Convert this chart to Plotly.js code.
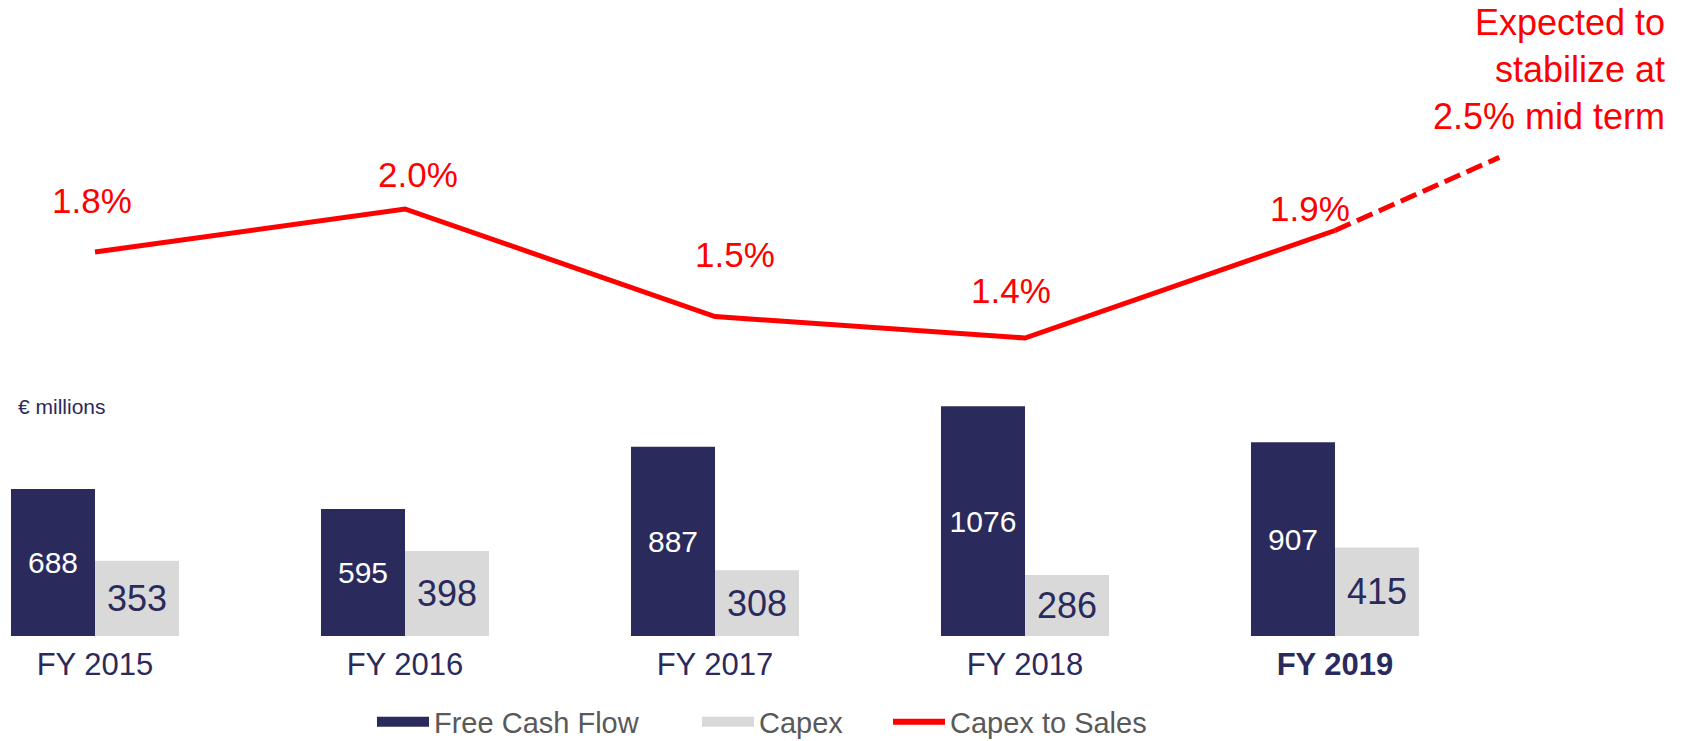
<!DOCTYPE html>
<html>
<head>
<meta charset="utf-8">
<script src="https://cdn.plot.ly/plotly-3.0.1.min.js"></script>
<style>
  html, body { margin: 0; padding: 0; background: #ffffff; }
  #chart { width: 1688px; height: 741px; }
</style>
</head>
<body>
<div id="chart"></div>
<script>
// ---- data ----
const categories = ["FY 2015", "FY 2016", "FY 2017", "FY 2018", "FY 2019"];
const tickLabels = ["FY 2015", "FY 2016", "FY 2017", "FY 2018", "<b>FY 2019</b>"];
const freeCashFlow = [688, 595, 887, 1076, 907];
const capex = [353, 398, 308, 286, 415];
const capexToSales = [1.8, 2.0, 1.5, 1.4, 1.9];
const outlookX = [4, 4.53];
const outlookY = [1.9, 2.24];
const outlookNote = "Expected to<br>stabilize at<br>2.5% mid term";
const unitLabel = "€ millions";
const seriesNames = ["Free Cash Flow", "Capex", "Capex to Sales"];

// ---- styles ----
const NAVY = "#2b2a5c";
const GREY = "#d9d9d9";
const RED = "#ff0000";
const FONT = "Liberation Sans, Arial, sans-serif";
const idx = categories.map((_, i) => i);
// label offsets (px) of the percentage labels relative to their points
const pctDx = [-3, 13, 20, -14, -25];
const pctDy = [51, 34, 62, 48, 22];

const traces = [
  {
    type: "bar", name: seriesNames[0], x: idx, y: freeCashFlow,
    marker: { color: NAVY, line: { width: 0 } },
    text: freeCashFlow.map(String), textposition: "inside",
    insidetextanchor: "middle", textangle: 0, constraintext: "none",
    insidetextfont: { family: FONT, size: 30, color: "#ffffff" },
    showlegend: false, hoverinfo: "skip"
  },
  {
    type: "bar", name: seriesNames[1], x: idx, y: capex,
    marker: { color: GREY, line: { width: 0 } },
    text: capex.map(String), textposition: "inside",
    insidetextanchor: "middle", textangle: 0, constraintext: "none",
    insidetextfont: { family: FONT, size: 36, color: NAVY },
    showlegend: false, hoverinfo: "skip"
  },
  {
    type: "scatter", mode: "lines", name: seriesNames[2], x: idx, y: capexToSales,
    yaxis: "y2", line: { color: RED, width: 5 }, showlegend: false, hoverinfo: "skip"
  },
  {
    type: "scatter", mode: "lines", name: "Outlook", x: outlookX, y: outlookY,
    yaxis: "y2", line: { color: RED, width: 5, dash: "17px,7px" }, showlegend: false, hoverinfo: "skip"
  },
  // legend entries
  { type: "scatter", mode: "lines", name: seriesNames[0], x: [null], y: [null], legend: "legend",
    line: { color: NAVY, width: 14 }, showlegend: true, hoverinfo: "skip" },
  { type: "scatter", mode: "lines", name: seriesNames[1], x: [null], y: [null], legend: "legend2",
    line: { color: GREY, width: 14 }, showlegend: true, hoverinfo: "skip" },
  { type: "scatter", mode: "lines", name: seriesNames[2], x: [null], y: [null], legend: "legend3",
    line: { color: RED, width: 6 }, showlegend: true, hoverinfo: "skip" }
];

const annotations = capexToSales.map((v, i) => ({
  x: i, y: v, xref: "x", yref: "y2", showarrow: false,
  text: v.toFixed(1) + "%", xanchor: "center", yanchor: "middle",
  xshift: pctDx[i], yshift: pctDy[i],
  font: { family: FONT, size: 35, color: RED }
}));
annotations.push({
  x: 1667 / 1688, y: 0.89, xref: "paper", yref: "paper", showarrow: false,
  text: outlookNote, xanchor: "right", yanchor: "middle", align: "right",
  font: { family: FONT, size: 36, color: RED }
});
annotations.push({
  x: 16 / 1688, y: (636 - 406) / 636, xref: "paper", yref: "paper", showarrow: false,
  text: unitLabel, xanchor: "left", yanchor: "middle",
  font: { family: FONT, size: 21, color: NAVY }
});

function legendAt(px) {
  return {
    orientation: "h", x: px / 1688, xanchor: "left", y: -86 / 636, yanchor: "middle",
    font: { family: FONT, size: 29, color: "#595959" },
    itemwidth: 52, bgcolor: "rgba(0,0,0,0)", borderwidth: 0
  };
}

const layout = {
  width: 1688, height: 741,
  margin: { l: 0, r: 0, t: 0, b: 105, pad: 0, autoexpand: false },
  paper_bgcolor: "#ffffff", plot_bgcolor: "#ffffff",
  barmode: "group", bargap: 0.458, bargroupgap: 0,
  showlegend: true,
  legend: legendAt(372),
  legend2: legendAt(697),
  legend3: legendAt(888),
  xaxis: {
    range: [-95 / 310, (1688 - 95) / 310],
    tickmode: "array", tickvals: idx, ticktext: tickLabels,
    tickfont: { family: FONT, size: 31, color: NAVY },
    ticklabelstandoff: 7,
    showgrid: false, zeroline: false, showline: false, ticks: "",
    fixedrange: true, automargin: false
  },
  yaxis: { range: [0, 2979], visible: false, fixedrange: true },
  yaxis2: { range: [0.014, 2.972], overlaying: "y", visible: false, fixedrange: true },
  annotations: annotations
};

Plotly.newPlot("chart", traces, layout, { displayModeBar: false, staticPlot: true });
</script>
</body>
</html>
